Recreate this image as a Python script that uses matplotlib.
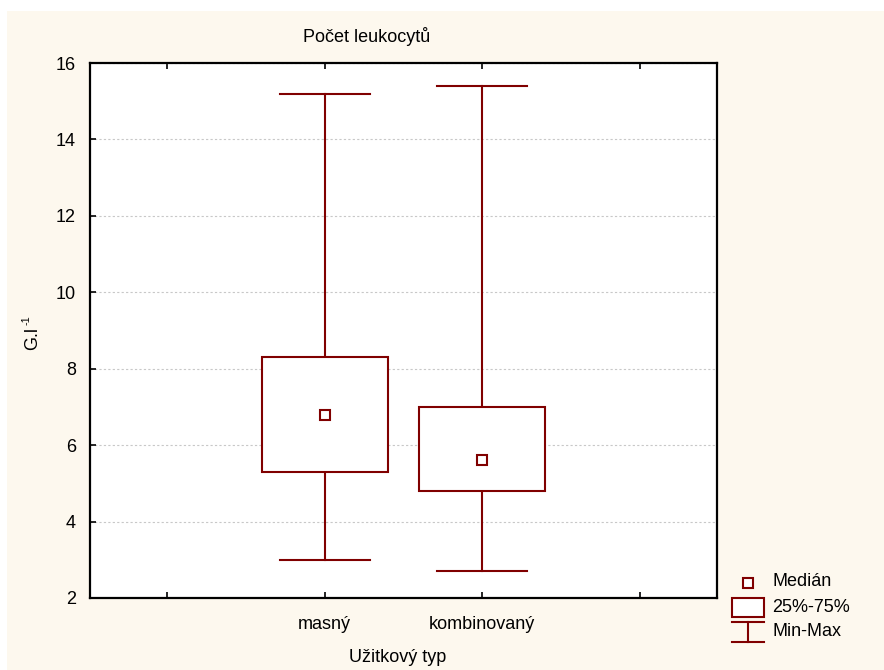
import matplotlib
matplotlib.use("Agg")
import matplotlib.pyplot as plt
from matplotlib.patches import Rectangle

plt.rcParams['font.family'] = ['Liberation Sans', 'DejaVu Sans']

# Summary statistics per category
categories = ["masný", "kombinovaný"]
minimum = [3.0, 2.7]
q1 = [5.3, 4.8]
median = [6.8, 5.6]
q3 = [8.3, 7.0]
maximum = [15.2, 15.4]

y_ticks = [2, 4, 6, 8, 10, 12, 14, 16]
legend_labels = ["Medián", "25%-75%", "Min-Max"]

RED = "#800000"
CREAM = "#fdf8ee"
W, H = 884, 670
FS = 13

fig = plt.figure(figsize=(W / 100, H / 100), dpi=100, facecolor="white")
# cream panel behind everything
fig.patches.append(Rectangle((7 / W, 0), 1, 1 - 11 / H, transform=fig.transFigure,
                             facecolor=CREAM, edgecolor="none", zorder=-10))

left, right, top, bottom = 90, 717, 63, 598
ax = fig.add_axes([left / W, 1 - bottom / H, (right - left) / W, (bottom - top) / H])
ax.set_facecolor("white")

positions = [1, 2]
box_w = 0.8
cap_w = 0.57
for x, lo, a, m, b, hi in zip(positions, minimum, q1, median, q3, maximum):
    ax.plot([x, x], [lo, a], color=RED, lw=1.5, zorder=3)
    ax.plot([x, x], [b, hi], color=RED, lw=1.5, zorder=3)
    ax.plot([x - cap_w / 2, x + cap_w / 2], [lo, lo], color=RED, lw=1.5, zorder=3)
    ax.plot([x - cap_w / 2, x + cap_w / 2], [hi, hi], color=RED, lw=1.5, zorder=3)
    ax.add_patch(Rectangle((x - box_w / 2, a), box_w, b - a, facecolor="white",
                           edgecolor=RED, lw=1.5, zorder=3))
    ax.plot([x], [m], marker="s", ms=6.5, mfc="white", mec=RED, mew=1.5, zorder=4)

ax.set_xlim(-0.49, 3.49)
ax.set_ylim(2, 16)
ax.set_xticks([0, 1, 2, 3])
ax.set_xticklabels(["", categories[0], categories[1], ""])
ax.set_yticks(y_ticks)
ax.set_yticklabels([str(v) for v in y_ticks])
ax.grid(axis="y", color="#c8c8c8", linestyle=(0, (2, 2)), lw=0.8)
ax.set_axisbelow(True)
ax.tick_params(axis="both", direction="in", length=4, width=1.2, labelsize=FS,
               colors="black")
ax.tick_params(axis="x", top=True, pad=13)
ax.tick_params(axis="y", pad=10)
for s in ax.spines.values():
    s.set_linewidth(1.6)
    s.set_color("black")

fig.text(367 / W, 1 - 37 / H, "Počet leukocytů", ha="center", va="center", fontsize=FS)
fig.text(398 / W, 1 - 657 / H, "Užitkový typ", ha="center", va="center", fontsize=FS)
# rotated y label with a plain-text superscript
fig.text(33 / W, 1 - 338 / H, "G.l", ha="center", va="center", fontsize=FS,
         rotation=90)
fig.text(27 / W, 1 - 320 / H, "-1", ha="center", va="center", fontsize=FS * 0.6,
         rotation=90)

# legend drawn in pixel coordinates
lg = fig.add_axes([0, 0, 1, 1], facecolor="none")
lg.set_xlim(0, W)
lg.set_ylim(H, 0)
lg.axis("off")
lg.plot([748], [583], marker="s", ms=6.5, mfc="white", mec=RED, mew=1.5)
lg.add_patch(Rectangle((732, 598), 32, 19, facecolor="white", edgecolor=RED, lw=1.5))
lg.plot([732, 764], [622, 622], color=RED, lw=1.5)
lg.plot([732, 764], [642, 642], color=RED, lw=1.5)
lg.plot([748, 748], [622, 642], color=RED, lw=1.5)
for y, t in zip([582, 607, 632], legend_labels):
    lg.text(772, y, t, ha="left", va="center", fontsize=FS)

fig.savefig("out.png", dpi=100, facecolor=fig.get_facecolor())
